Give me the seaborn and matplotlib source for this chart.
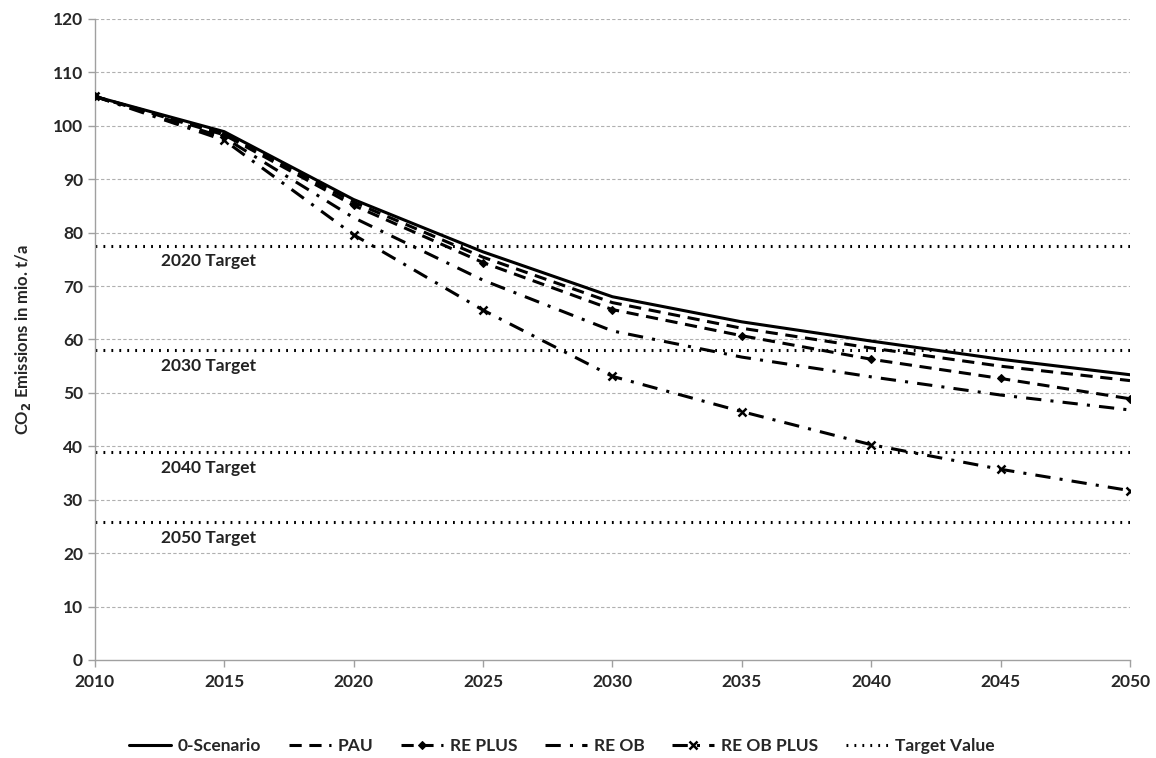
import numpy as np
import pandas as pd
import seaborn as sns
from matplotlib import pyplot as plt

# values
years = [2010, 2015, 2020, 2025, 2030, 2035, 2040, 2045, 2050]
zero_scenario = [105.5, 98.9, 86.2, 76.4, 68.0, 63.3, 59.7, 56.3, 53.4]
pau = [105.5, 98.6, 85.7, 75.4, 66.9, 62.1, 58.4, 55.0, 52.3]
re_plus = [105.5, 98.3, 85.1, 74.4, 65.6, 60.7, 56.3, 52.7, 48.9]
re_ob = [105.5, 97.8, 82.8, 71.1, 61.6, 56.7, 53.0, 49.6, 46.8]
re_ob_plus = [105.5, 97.3, 79.6, 65.5, 53.1, 46.5, 40.3, 35.7, 31.7]

target_names = ['2020 Target', '2030 Target', '2040 Target', '2050 Target']
target_values = [77.5, 58.0, 38.9, 25.8]

sns.set_theme(style='white')
plt.rcParams['font.family'] = ['Lato', 'DejaVu Sans']
plt.rcParams['font.weight'] = 'bold'

fig = plt.figure(figsize=(11.56, 7.58), dpi=100)
ax = fig.add_axes([0.082, 0.1293, 0.8955, 0.8457])

# y grid first so lines sit on top
for v in range(10, 121, 10):
    ax.axhline(v, color='#b0b0b0', lw=0.8, ls=(0, (3, 2)), zorder=0)

series = [
    ('0-Scenario', zero_scenario, dict(ls='-', marker=None)),
    ('PAU', pau, dict(ls=(0, (4, 2.5)), marker=None)),
    ('RE PLUS', re_plus, dict(ls=(0, (4, 2.5)), marker='D', markersize=4.5)),
    ('RE OB', re_ob, dict(ls=(0, (5, 3, 1, 3)), marker=None)),
    ('RE OB PLUS', re_ob_plus, dict(ls=(0, (5, 3, 1, 3)), marker='x', markersize=6, markeredgewidth=1.8)),
]

for name, vals, kw in series:
    df = pd.DataFrame({'year': years, 'value': vals})
    sns.lineplot(data=df, x='year', y='value', ax=ax, color='black', lw=2.2,
                 label=name, zorder=3, markeredgecolor='black', **kw)

for i, (name, val) in enumerate(zip(target_names, target_values)):
    ax.axhline(val, color='black', lw=2.2, ls=(0, (0.6, 2)), zorder=2,
               label='Target Value' if i == 0 else None)
    ax.text(2014.4, val - 1.4, name, ha='center', va='top', fontsize=12.5,
            fontweight='bold', color='#222222')

ax.set_xlim(2010, 2050)
ax.set_ylim(0, 120)
ax.set_xticks(range(2010, 2051, 5))
ax.set_yticks(range(0, 121, 10))
ax.tick_params(axis='both', which='both', length=5, width=1, color='#a0a0a0',
               labelsize=12.5, direction='out', bottom=True, left=True)
ax.tick_params(axis='x', pad=5)
for lab in ax.get_xticklabels() + ax.get_yticklabels():
    lab.set_fontweight('bold')

for side in ['top', 'right']:
    ax.spines[side].set_visible(False)
for side in ['left', 'bottom']:
    ax.spines[side].set_color('#a0a0a0')
    ax.spines[side].set_linewidth(1)

ax.set_xlabel('')
ax.set_ylabel('CO$_2$ Emissions in mio. t/a', fontsize=12, fontweight='bold', labelpad=14)

handles, labels = ax.get_legend_handles_labels()
ax.legend_.remove()
fig.legend(handles, labels, loc='upper center', bbox_to_anchor=(0.486, 0.036), ncol=6,
           frameon=False, handlelength=2.4, columnspacing=1.6, handletextpad=0.4,
           borderaxespad=0, prop={'weight': 'bold', 'size': 12.5})

fig.savefig('out.png', dpi=100)
